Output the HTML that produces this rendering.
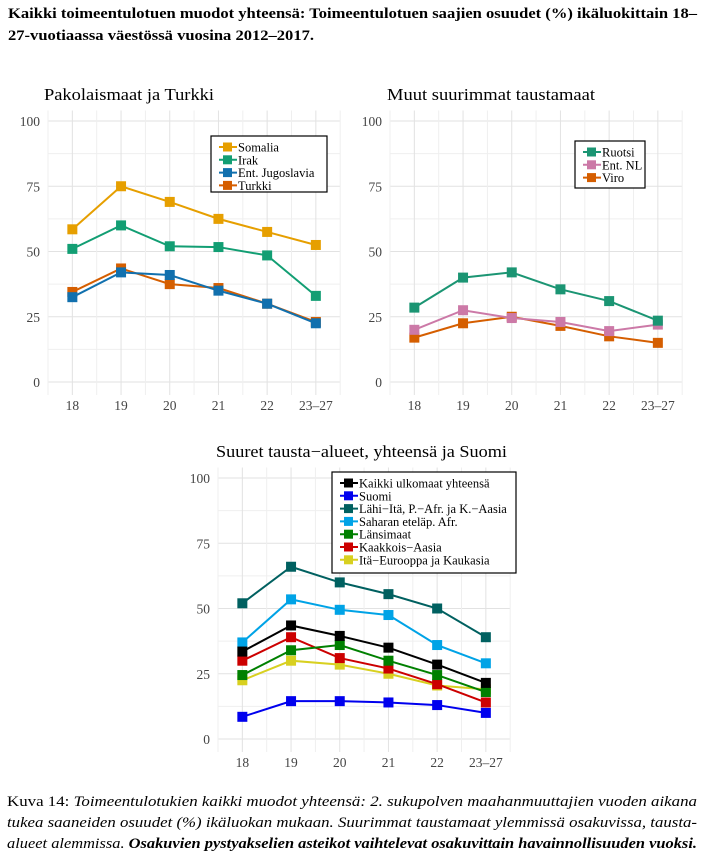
<!DOCTYPE html>
<html><head><meta charset="utf-8"><style>
body{margin:0;background:#fff;width:705px;height:859px;overflow:hidden}
svg{display:block}
</style></head><body>
<svg id="s" width="705" height="859" xmlns="http://www.w3.org/2000/svg" font-family="'Liberation Serif',serif">
<text x="8" y="18" font-size="15" font-weight="bold" textLength="689" lengthAdjust="spacingAndGlyphs">Kaikki toimeentulotuen muodot yhteensä: Toimeentulotuen saajien osuudet (%) ikäluokittain 18–</text>
<text x="8" y="40" font-size="15" font-weight="bold" textLength="306" lengthAdjust="spacingAndGlyphs">27-vuotiaassa väestössä vuosina 2012–2017.</text>
<text x="7" y="806" font-size="14.5" textLength="690" lengthAdjust="spacingAndGlyphs">Kuva 14: <tspan font-style="italic">Toimeentulotukien kaikki muodot yhteensä: 2. sukupolven maahanmuuttajien vuoden aikana</tspan></text>
<text x="7" y="827" font-size="14.5" font-style="italic" textLength="690" lengthAdjust="spacingAndGlyphs">tukea saaneiden osuudet (%) ikäluokan mukaan. Suurimmat taustamaat ylemmissä osakuvissa, tausta-</text>
<text x="7" y="848" font-size="14.5" font-style="italic" textLength="690" lengthAdjust="spacingAndGlyphs">alueet alemmissa. <tspan font-weight="bold">Osakuvien pystyakselien asteikot vaihtelevat osakuvittain havainnollisuuden vuoksi.</tspan></text>
</svg>
<script>
const categories=["18","19","20","21","22","23–27"];
const yTicks=[0,25,50,75,100];
const somalia=[58.5,75,69,62.5,57.5,52.5];
const irak=[51,60,52,51.7,48.5,33];
const jugoslavia=[32.5,42,41,35,30,22.5];
const turkki=[34.5,43.5,37.5,36,30,23];
const ruotsi=[28.5,40,42,35.5,31,23.5];
const entNL=[20,27.5,24.5,23,19.5,22];
const viro=[17,22.5,25,21.5,17.5,15];
const kaikki=[33.5,43.5,39.5,35,28.5,21.5];
const suomi=[8.5,14.5,14.5,14,13,10];
const lahiIta=[52,66,60,55.5,50,39];
const sahara=[37,53.5,49.5,47.5,36,29];
const lansimaat=[24.5,34,36,30,24.5,18];
const kaakkois=[30,39,31,27,21,14];
const itaEur=[22.5,30,28.5,25,20.5,19];

const NS="http://www.w3.org/2000/svg";
const svg=document.getElementById('s');
function el(tag,attrs,parent){const e=document.createElementNS(NS,tag);for(const k in attrs)e.setAttribute(k,attrs[k]);(parent||svg).appendChild(e);return e;}

const panels=[
 {key:'pakolais',title:'Pakolaismaat ja Turkki',tw:170,tx:44,ty:100,x0:48,y0:382,y100:121,
  legend:{x:211,y:136,w:116,h:56},
  series:[['Somalia',somalia,'#E69F00'],['Irak',irak,'#129E73'],['Ent. Jugoslavia',jugoslavia,'#1170AE'],['Turkki',turkki,'#D55E00']]},
 {key:'muut',title:'Muut suurimmat taustamaat',tw:208,tx:387,ty:100,x0:390,y0:382,y100:121,
  legend:{x:575,y:141,w:70,h:47},
  series:[['Ruotsi',ruotsi,'#1B9573'],['Ent. NL',entNL,'#CC79A7'],['Viro',viro,'#D55E00']]},
 {key:'alueet',title:'Suuret tausta−alueet, yhteensä ja Suomi',tw:291,tx:216,ty:457,x0:218,y0:739,y100:478,
  legend:{x:332,y:472,w:184,h:101},
  series:[['Kaikki ulkomaat yhteensä',kaikki,'#000000'],['Suomi',suomi,'#0000EE'],['Lähi−Itä, P.−Afr. ja K.−Aasia',lahiIta,'#006060'],['Saharan eteläp. Afr.',sahara,'#00A3E6'],['Länsimaat',lansimaat,'#008000'],['Kaakkois−Aasia',kaakkois,'#CC0000'],['Itä−Eurooppa ja Kaukasia',itaEur,'#D8D020']]}
];
const step=48.7;
panels.forEach(p=>{
  const g=el('g',{});
  
  
  const xs=i=>p.x0+step*(i+0.5);
  const ys=v=>p.y0-(v/100)*(p.y0-p.y100);
  const t=el('text',{x:p.tx,y:p.ty,'font-size':17,textLength:p.tw,lengthAdjust:'spacingAndGlyphs'},g);t.textContent=p.title;
  
  
  const right=p.x0+step*6, top=ys(104), bot=ys(-5);
  for(let v=0;v<=100;v+=12.5){const l=el('line',{x1:p.x0,x2:right,y1:ys(v),y2:ys(v),stroke:v%25===0?'#e2e2e2':'#efefef','stroke-width':1},g);
    
    }
  for(let i=0;i<=12;i++){const x=p.x0+step*i/2;const l=el('line',{x1:x,x2:x,y1:top,y2:bot,stroke:i%2?'#e2e2e2':'#efefef','stroke-width':1},g);
    
    }
  yTicks.forEach(v=>{const tt=el('text',{x:p.x0-8,y:ys(v)+5,'font-size':13.5,'text-anchor':'end',fill:'#444'},g);tt.textContent=v;
    
    });
  categories.forEach((c,i)=>{const tt=el('text',{x:xs(i),y:p.y0+28,'font-size':13.5,'text-anchor':'middle',fill:'#444'},g);tt.textContent=c;
    
    });
  p.series.slice().reverse().forEach(([name,vals,col])=>{
    const pl=el('polyline',{points:vals.map((v,i)=>xs(i)+','+ys(v)).join(' '),fill:'none',stroke:col,'stroke-width':2},g);
    
    
    vals.forEach((v,i)=>{const r=el('rect',{x:xs(i)-5,y:ys(v)-5,width:10,height:10,fill:col},g);
      
      });
  });
  const L=p.legend;
  const lg=el('g',{},g);
  
  
  el('rect',{x:L.x,y:L.y,width:L.w,height:L.h,fill:'#fff',stroke:'#000','stroke-width':1.2},lg);
  p.series.forEach(([name,vals,col],k)=>{
    const cy=L.y+11+k*12.8;
    const e=el('g',{},lg);
    
    
    el('line',{x1:L.x+8,x2:L.x+26,y1:cy,y2:cy,stroke:col,'stroke-width':2},e);
    el('rect',{x:L.x+12,y:cy-4.5,width:9,height:9,fill:col},e);
    const tt=el('text',{x:L.x+27,y:cy+4.5,'font-size':12.5},e);tt.textContent=name;
  });
});
</script>
</body></html>
